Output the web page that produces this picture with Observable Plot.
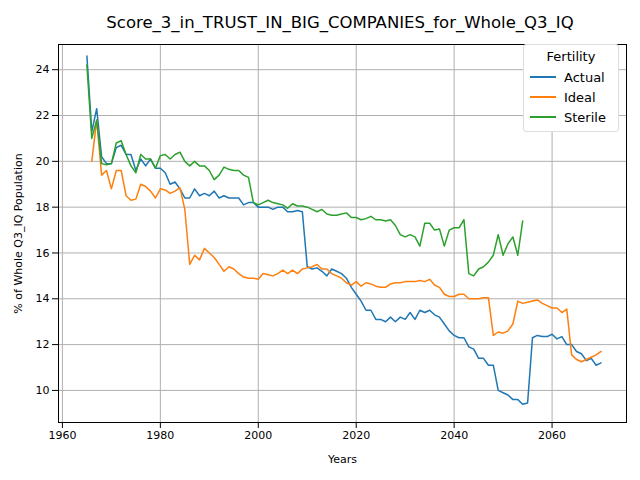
<!DOCTYPE html>
<html><head><meta charset="utf-8">
<script src="https://cdn.jsdelivr.net/npm/d3@7"></script>
<script src="https://cdn.jsdelivr.net/npm/@observablehq/plot@0.6"></script>
<style>
body{margin:0;font-family:"DejaVu Sans",sans-serif;background:#fff}
#wrap{position:relative;width:640px;height:480px}
#title{height:44px;line-height:46px;text-align:center;font-size:16.5px;padding-left:40px}
#legend{position:absolute;left:523px;top:44px;width:94px;border:1px solid #ddd;border-radius:3px;background:#fff;font-size:13px;padding:4px 0 4px 0}
#legend .h{text-align:center;margin-bottom:3px}
#legend .r{display:flex;align-items:center;height:20px;padding-left:6px}
#legend .r i{display:inline-block;width:26px;height:2px;margin-right:8px}
</style></head><body>
<div id="wrap"><div id="title">Score_3_in_TRUST_IN_BIG_COMPANIES_for_Whole_Q3_IQ</div><div id="chart"></div><div id="legend"></div></div>
<script>
const actualStart = 1965
const actual = [24.6,21.3,22.3,20.2,19.9,19.9,20.6,20.7,20.3,20.3,19.6,20.1,19.8,20.1,19.7,19.7,19.5,19.0,19.1,18.8,18.4,18.4,18.8,18.5,18.6,18.5,18.7,18.4,18.5,18.4,18.4,18.4,18.1,18.2,18.2,18.0,18.0,18.0,17.9,18.0,18.0,17.8,17.8,17.85,17.8,15.4,15.3,15.35,15.2,15.0,15.3,15.2,15.1,14.9,14.5,14.2,13.9,13.5,13.5,13.1,13.1,13.0,13.2,13.0,13.2,13.1,13.4,13.1,13.5,13.4,13.5,13.3,13.2,12.9,12.6,12.4,12.3,12.3,11.9,11.8,11.4,11.4,11.1,11.1,10.0,9.9,9.8,9.6,9.6,9.4,9.45,12.3,12.4,12.35,12.35,12.45,12.25,12.35,12.0,12.0,11.7,11.6,11.3,11.4,11.1,11.2]
const idealStart = 1966
const ideal = [20.0,21.8,19.4,19.6,18.8,19.6,19.6,18.5,18.3,18.35,19.0,18.9,18.7,18.4,18.8,18.75,18.6,18.7,18.85,17.9,15.5,15.9,15.7,16.2,16.0,15.8,15.5,15.2,15.4,15.3,15.1,14.95,14.9,14.9,14.85,15.1,15.05,15.0,15.1,15.25,15.1,15.25,15.1,15.3,15.35,15.4,15.5,15.3,15.3,15.1,15.0,14.9,14.7,14.6,14.75,14.55,14.7,14.65,14.55,14.5,14.5,14.65,14.7,14.7,14.75,14.75,14.75,14.8,14.75,14.85,14.6,14.5,14.2,14.1,14.1,14.2,14.2,14.0,14.0,14.0,14.05,14.05,12.4,12.55,12.5,12.6,12.9,13.9,13.8,13.85,13.9,13.95,13.8,13.7,13.6,13.6,13.4,13.55,11.55,11.35,11.25,11.35,11.45,11.55,11.7]
const sterileStart = 1965
const sterile = [24.2,21.0,21.8,19.9,19.85,19.9,20.8,20.9,20.3,19.8,19.5,20.3,20.1,20.1,19.7,20.25,20.3,20.1,20.3,20.4,20.0,19.8,20.0,19.8,19.8,19.6,19.2,19.4,19.75,19.65,19.6,19.6,19.4,19.3,18.2,18.1,18.2,18.3,18.2,18.15,18.1,17.95,18.15,18.05,18.05,18.0,17.9,17.8,17.9,17.7,17.65,17.65,17.7,17.75,17.55,17.55,17.45,17.5,17.6,17.45,17.45,17.4,17.45,17.2,16.8,16.7,16.8,16.7,16.3,17.3,17.3,17.0,17.05,16.3,17.0,17.1,17.1,17.45,15.1,15.0,15.3,15.4,15.6,15.9,16.8,15.9,16.4,16.7,15.9,17.4]
const names = ["Actual","Ideal","Sterile"]
const colors = ["#1f77b4","#ff7f0e","#2ca02c"]

const rows = []
;[[actual,actualStart],[ideal,idealStart],[sterile,sterileStart]].forEach(([vals,start],i) =>
  vals.forEach((v,j) => rows.push({year:start+j, value:v, series:names[i]})))

const chart = Plot.plot({
  width:640, height:436,
  marginLeft:58, marginRight:14, marginTop:0, marginBottom:58,
  style:{fontFamily:"DejaVu Sans", fontSize:"12px", color:"#000"},
  x:{domain:[1959.2,2075.2]},
  y:{domain:[8.6,25.1]},
  color:{domain:names, range:colors},
  marks:[
    Plot.gridX({ticks:[1960,1980,2000,2020,2040,2060], stroke:"#b0b0b0", strokeOpacity:1}),
    Plot.gridY({ticks:[10,12,14,16,18,20,22,24], stroke:"#b0b0b0", strokeOpacity:1}),
    Plot.axisX({ticks:[1960,1980,2000,2020,2040,2060], tickFormat:d=>String(d), label:"Years", labelAnchor:"center", labelArrow:"none", labelOffset:40, fontSize:11}),
    Plot.axisY({ticks:[10,12,14,16,18,20,22,24], label:"% of Whole Q3_IQ Population", labelAnchor:"center", labelArrow:"none", labelOffset:44, fontSize:11}),
    Plot.line(rows, {x:"year", y:"value", stroke:"series", strokeWidth:1.5}),
    Plot.frame({stroke:"#000"})
  ]
})
d3.select('#chart').append(() => chart)

const lg = d3.select('#legend')
lg.append('div').attr('class','h').text('Fertility')
names.forEach((n,i) => {
  const r = lg.append('div').attr('class','r')
  r.append('i').style('background', colors[i])
  r.append('span').text(n)
})
</script>
</body></html>
